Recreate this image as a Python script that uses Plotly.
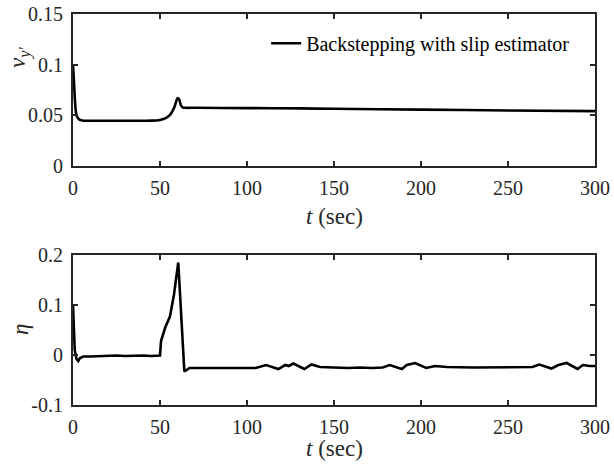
import plotly.graph_objects as go

# ---- data ----
t_v = [0, 0.5, 1, 1.5, 2, 3, 4, 6, 10, 20, 30, 40, 45, 48, 50, 52, 54, 56, 58, 59,
       60, 61, 62, 63, 64.5, 70, 100, 130, 150, 200, 250, 300]
v_y = [0.100, 0.085, 0.068, 0.056, 0.050, 0.047, 0.0455, 0.0448, 0.0447, 0.0447,
       0.0447, 0.0447, 0.0448, 0.0450, 0.0455, 0.0465, 0.048, 0.051, 0.057, 0.062,
       0.067, 0.066, 0.060, 0.058, 0.0575, 0.0575, 0.0572, 0.0569, 0.0565, 0.0557,
       0.0549, 0.0542]

t_eta = [0, 1, 2, 3, 4, 6, 10, 15, 20, 25, 30, 35, 40, 45, 50, 50.6, 51.5, 53, 55.7,
         58, 60.5, 62, 64, 67, 75, 85, 95, 105, 111, 118, 122, 124, 126.6, 133, 137,
         142, 150, 158, 165, 172, 178, 182, 189, 191.8, 196.6, 203, 208, 215, 230,
         245, 258, 264, 268, 275, 279, 283.7, 290, 293, 297, 300]
eta = [0.100, 0.010, -0.008, -0.012, -0.006, -0.003, -0.003, -0.002, -0.002, -0.001,
       -0.002, -0.001, -0.001, -0.002, -0.001, 0.028, 0.040, 0.055, 0.077,
       0.120, 0.185, 0.090, -0.033, -0.026, -0.026, -0.026, -0.025, -0.026, -0.020,
       -0.028, -0.020, -0.022, -0.017, -0.028, -0.019, -0.024, -0.025, -0.026, -0.025,
       -0.026, -0.025, -0.020, -0.028, -0.020, -0.016, -0.026, -0.022, -0.024, -0.025,
       -0.025, -0.024, -0.024, -0.019, -0.027, -0.020, -0.016, -0.028, -0.020, -0.022,
       -0.022]

x_ticks = [0, 50, 100, 150, 200, 250, 300]
x_ticktext = ["0", "50", "100", "150", "200", "250", "300"]
v_ticks = [0, 0.05, 0.1, 0.15]
v_ticktext = ["0", "0.05", "0.1", "0.15"]
eta_ticks = [-0.1, 0, 0.1, 0.2]
eta_ticktext = ["-0.1", "0", "0.1", "0.2"]

legend_name = "Backstepping with slip estimator"

FONT = "Liberation Serif"
AX = "#262626"

fig = go.Figure()
fig.add_trace(go.Scatter(x=t_v, y=v_y, mode="lines", name=legend_name,
                         line=dict(color="black", width=2.6, shape="spline", smoothing=0.6),
                         xaxis="x", yaxis="y"))
fig.add_trace(go.Scatter(x=t_eta, y=eta, mode="lines", showlegend=False,
                         line=dict(color="black", width=2.6),
                         xaxis="x2", yaxis="y2"))

axis_common = dict(showline=True, linecolor=AX, linewidth=2, mirror="ticks",
                   ticks="inside", ticklen=5, tickwidth=2, tickcolor=AX,
                   showgrid=False, zeroline=False, automargin=False,
                   ticklabeloverflow="allow",
                   tickfont=dict(family=FONT, size=20, color=AX))
xax = dict(ticklabelstandoff=3, **axis_common)
yax = dict(ticklabelstandoff=4, **axis_common)

fig.update_layout(
    width=614, height=470,
    paper_bgcolor="white", plot_bgcolor="white",
    margin=dict(l=73, r=19, t=14, b=65),
    showlegend=True,
    legend=dict(x=0.37, y=0.975, xanchor="left", yanchor="top",
                bgcolor="rgba(0,0,0,0)", borderwidth=0,
                font=dict(family=FONT, size=20, color="black")),
    xaxis=dict(domain=[0, 1], range=[0, 300], tickvals=x_ticks, ticktext=x_ticktext,
               anchor="y", **xax),
    yaxis=dict(domain=[0.611, 1], range=[0, 0.15], tickvals=v_ticks, ticktext=v_ticktext,
               anchor="x", **yax),
    xaxis2=dict(domain=[0, 1], range=[0, 300], tickvals=x_ticks, ticktext=x_ticktext,
                anchor="y2", **xax),
    yaxis2=dict(domain=[0, 0.3836], range=[-0.1, 0.2], tickvals=eta_ticks,
                ticktext=eta_ticktext, anchor="x2", **yax),
)

ann_font = dict(family=FONT, size=23, color=AX)
fig.add_annotation(text="<i>t</i> (sec)", xref="paper", yref="paper", x=0.5,
                   y=(405 - 216) / 391, xanchor="center", yanchor="middle",
                   showarrow=False, font=ann_font)
fig.add_annotation(text="<i>t</i> (sec)", xref="paper", yref="paper", x=0.5,
                   y=(405 - 448) / 391, xanchor="center", yanchor="middle",
                   showarrow=False, font=ann_font)
fig.add_annotation(text="<i>v</i><sub><i>y′</i></sub>", xref="paper", yref="paper",
                   x=(19 - 73) / 522, y=(405 - 58) / 391, xanchor="center",
                   yanchor="middle", textangle=-90, showarrow=False, font=ann_font)
fig.add_annotation(text="<i>η</i>", xref="paper", yref="paper",
                   x=(20 - 73) / 522, y=(405 - 330) / 391, xanchor="center",
                   yanchor="middle", textangle=-90, showarrow=False, font=ann_font)

# remove the browser's default 8px body margin so the figure sits at the page origin
fig.write_html("out.html", config={"displayModeBar": False},
               post_script="document.body.style.margin='0px';")
